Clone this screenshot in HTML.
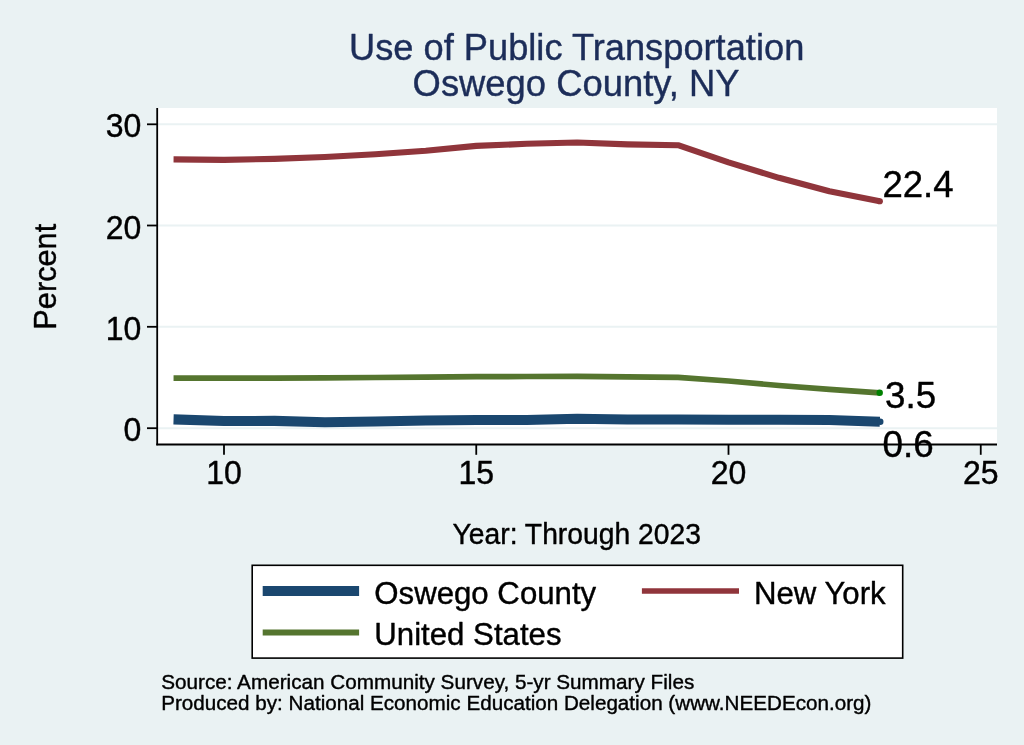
<!DOCTYPE html>
<html><head><meta charset="utf-8">
<style>
html,body{margin:0;padding:0;background:#eaf2f3;}
body{width:1024px;height:745px;overflow:hidden;}
svg{display:block;will-change:transform;}
text{font-family:"Liberation Sans",sans-serif;stroke-linejoin:round;}
.b{stroke:#000;stroke-width:0.4px;}
.t{stroke:#1c2d59;stroke-width:0.4px;}
</style></head>
<body>
<svg width="1024" height="745" viewBox="0 0 1024 745">
<rect x="0" y="0" width="1024" height="745" fill="#eaf2f3"/>
<text class="t" transform="translate(349,60) scale(1,1.015)" font-size="36.25" fill="#1c2d59">Use of Public Transportation</text>
<text class="t" transform="translate(412.6,95.6) scale(1,1.015)" font-size="36.4" fill="#1c2d59">Oswego County, NY</text>
<rect x="157" y="108" width="840" height="336" fill="#ffffff"/>
<g stroke="#eaf2f3" stroke-width="2">
<line x1="158" y1="124.3" x2="997" y2="124.3"/>
<line x1="158" y1="225.5" x2="997" y2="225.5"/>
<line x1="158" y1="326.8" x2="997" y2="326.8"/>
<line x1="158" y1="428.2" x2="997" y2="428.2"/>
</g>
<g stroke="#000" stroke-width="1.8" fill="none">
<line x1="157.2" y1="108" x2="157.2" y2="445.3"/>
<line x1="156.3" y1="444.5" x2="997" y2="444.5"/>
<line x1="147" y1="124.3" x2="157" y2="124.3"/>
<line x1="147" y1="225.5" x2="157" y2="225.5"/>
<line x1="147" y1="326.8" x2="157" y2="326.8"/>
<line x1="147" y1="428.2" x2="157" y2="428.2"/>
<line x1="224" y1="444" x2="224" y2="454.8"/>
<line x1="476.25" y1="444" x2="476.25" y2="454.8"/>
<line x1="728.5" y1="444" x2="728.5" y2="454.8"/>
<line x1="980.75" y1="444" x2="980.75" y2="454.8"/>
</g>
<text class="b" transform="translate(141.3,137.4) scale(1,1.02)" font-size="32" fill="#000" text-anchor="end">30</text>
<text class="b" transform="translate(141.3,238.7) scale(1,1.02)" font-size="32" fill="#000" text-anchor="end">20</text>
<text class="b" transform="translate(141.3,340) scale(1,1.02)" font-size="32" fill="#000" text-anchor="end">10</text>
<text class="b" transform="translate(141.3,441.4) scale(1,1.02)" font-size="32" fill="#000" text-anchor="end">0</text>
<text class="b" transform="translate(224,484) scale(1,1.02)" font-size="32" fill="#000" text-anchor="middle">10</text>
<text class="b" transform="translate(476.25,484) scale(1,1.02)" font-size="32" fill="#000" text-anchor="middle">15</text>
<text class="b" transform="translate(728.5,484) scale(1,1.02)" font-size="32" fill="#000" text-anchor="middle">20</text>
<text class="b" transform="translate(980.75,484) scale(1,1.02)" font-size="32" fill="#000" text-anchor="middle">25</text>
<polyline fill="none" stroke="#90353b" stroke-width="6.1" stroke-linejoin="round" points="173.55,159.4 224,159.9 274.45,158.9 324.9,157 375.35,154.3 425.8,150.8 476.25,145.9 526.7,143.8 577.15,142.5 627.6,144.4 678.05,145.2 728.5,162.3 778.95,177.8 829.4,191.3 879.85,201.25"/>
<circle cx="879.85" cy="201.25" r="3.1" fill="#90353b"/>
<polyline fill="none" stroke="#55752f" stroke-width="5.7" stroke-linejoin="round" points="173.55,378.1 224,378.2 274.45,378.1 324.9,377.9 375.35,377.5 425.8,377.1 476.25,376.6 526.7,376.5 577.15,376.4 627.6,376.8 678.05,377.3 728.5,381 778.95,385.5 829.4,389.4 879.85,392.9"/>
<circle cx="879.7" cy="392.8" r="3.2" fill="#008000"/>
<polyline fill="none" stroke="#1a476f" stroke-width="10.1" stroke-linejoin="round" points="173.55,419.4 224,421 274.45,420.9 324.9,422.25 375.35,421.5 425.8,420.5 476.25,420 526.7,420 577.15,418.75 627.6,419.5 678.05,419.5 728.5,419.75 778.95,419.75 829.4,420 879.85,421.75"/>
<circle cx="880.3" cy="421.7" r="3.2" fill="#1a476f"/>
<text class="b" transform="translate(882.4,196.5) scale(1,1.02)" font-size="36.6" fill="#000">22.4</text>
<text class="b" transform="translate(885,408.3) scale(1,1.02)" font-size="36.8" fill="#000">3.5</text>
<text class="b" transform="translate(882.5,456.9) scale(1,1.02)" font-size="36.8" fill="#000">0.6</text>
<text class="b" transform="translate(452.5,544.2) scale(1,1.015)" font-size="28.3" fill="#000">Year: Through 2023</text>
<text class="b" transform="translate(56.3,329.7) rotate(-90) scale(1,1.015)" font-size="30.75" fill="#000">Percent</text>
<rect x="252.2" y="565.3" width="650.5" height="92.8" fill="#fff" stroke="#000" stroke-width="1.6"/>
<line x1="262.7" y1="591" x2="359.1" y2="591" stroke="#1a476f" stroke-width="10.2"/>
<line x1="262.7" y1="632.4" x2="359.1" y2="632.4" stroke="#55752f" stroke-width="6"/>
<line x1="641.9" y1="591" x2="739" y2="591" stroke="#90353b" stroke-width="5.6"/>
<text class="b" transform="translate(374.3,604.2) scale(1,1.015)" font-size="31.2" fill="#000">Oswego County</text>
<text class="b" transform="translate(374.3,645.0) scale(1,1.015)" font-size="31.2" fill="#000">United States</text>
<text class="b" transform="translate(753.9,603.9) scale(1,1.015)" font-size="31.2" fill="#000">New York</text>
<text class="b" transform="translate(161.2,688.9) scale(1,1.015)" font-size="20.7" fill="#000">Source: American Community Survey, 5-yr Summary Files</text>
<text class="b" transform="translate(161.2,709.8) scale(1,1.015)" font-size="20.65" fill="#000">Produced by: National Economic Education Delegation (www.NEEDEcon.org)</text>
</svg>
</body></html>
